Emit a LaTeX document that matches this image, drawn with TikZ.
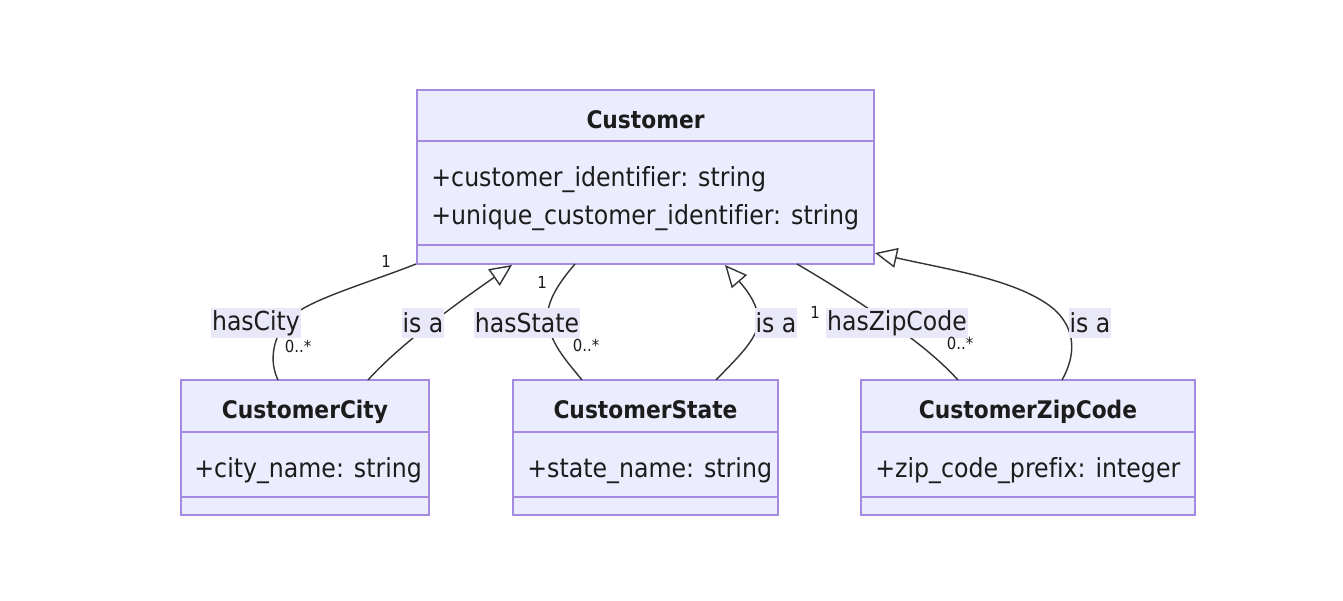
\documentclass[tikz,border=0pt]{standalone}
\usepackage{fontspec}
\setmainfont[Ligatures=NoCommon]{DejaVu Sans Condensed}
\usetikzlibrary{arrows.meta,calc}
\definecolor{boxfill}{HTML}{ECECFF}
\definecolor{boxline}{HTML}{A48BE0}
\definecolor{lblfill}{HTML}{E8E8F8}
\definecolor{ink}{HTML}{1C1C1C}
\definecolor{edgec}{HTML}{333333}
\tikzset{
  classbox/.style={draw=boxline, fill=boxfill, line width=0.8pt, inner sep=0pt, outer sep=0pt, rectangle},
  divider/.style={draw=boxline, line width=0.8pt},
  ctitle/.style={font=\fontsize{12.1}{14}\selectfont\bfseries, text=ink, anchor=base, inner sep=0pt},
  cattr/.style={font=\fontsize{13.15}{15}\selectfont, text=ink, anchor=base west, inner sep=0pt},
  elabel/.style={font=\fontsize{13.1}{15}\selectfont, text=ink, fill=lblfill, inner xsep=0.5pt, inner ysep=0pt, minimum height=15pt},
  mult/.style={font=\fontsize{8.3}{10}\selectfont, text=ink, inner sep=0pt},
  rel/.style={draw=edgec, line width=0.7pt},
  inh/.style={rel, -{Triangle[open, fill=white, length=11pt, width=10pt]}}
}
\begin{document}
\begin{tikzpicture}[x=0.5pt, y=-0.5pt]
\useasboundingbox[fill=white] (0,0) rectangle (1343,600);

% class boxes
\node[classbox, minimum width=228.5pt, minimum height=87pt] (cust) at (645.5,177) {};
\node[classbox, minimum width=124pt, minimum height=67.5pt] (city) at (305,447.5) {};
\node[classbox, minimum width=132.5pt, minimum height=67.5pt] (state) at (645.5,447.5) {};
\node[classbox, minimum width=167pt, minimum height=67.5pt] (zip) at (1028,447.5) {};

% dividers
\draw[divider] (cust.west |- 0,141) -- (cust.east |- 0,141);
\draw[divider] (cust.west |- 0,245) -- (cust.east |- 0,245);
\foreach \b in {city,state,zip}{
  \draw[divider] (\b.west |- 0,432) -- (\b.east |- 0,432);
  \draw[divider] (\b.west |- 0,497) -- (\b.east |- 0,497);
}

% texts
\node[ctitle] (custT) at (645.5,128) {Customer};
\node[cattr] (custA1) at (431,186) {+customer\_identifier: string};
\node[cattr] (custA2) at (431,224) {+unique\_customer\_identifier: string};
\node[ctitle] (cityT) at (305,418) {CustomerCity};
\node[cattr] (cityA) at (194,477) {+city\_name: string};
\node[ctitle] (stateT) at (645.5,418) {CustomerState};
\node[cattr] (stateA) at (527,477) {+state\_name: string};
\node[ctitle] (zipT) at (1028,418) {CustomerZipCode};
\node[cattr] (zipA) at (875,477) {+zip\_code\_prefix: integer};

% connection points
\coordinate (pHC) at ($(cust.south west)+(-1,0)$);
\coordinate (pIC) at ($(cust.south west)+(95,1)$);
\coordinate (pHS) at ($(cust.south west)+(158,0)$);
\coordinate (pIS) at ($(cust.south west)+(308,1)$);
\coordinate (pHZ) at ($(cust.south west)+(380,0)$);
\coordinate (pIZ) at ($(cust.south east)+(1,-11)$);
\coordinate (qHC) at ($(city.north west)+(97,0)$);
\coordinate (qIC) at ($(city.north west)+(187,0)$);
\coordinate (qHS) at ($(state.north west)+(69,0)$);
\coordinate (qIS) at ($(state.north west)+(203,0)$);
\coordinate (qHZ) at ($(zip.north west)+(97,0)$);
\coordinate (qIZ) at ($(zip.north west)+(201,0)$);

% relations
\draw[rel] (pHC) .. controls (360,286) and (300,302) .. (285,323)
                 .. controls (270,345) and (271,365) .. (qHC);
\draw[inh] (qIC) .. controls (395,350) and (440,315) .. (pIC);
\draw[rel] (pHS) .. controls (556,286) and (545,305) .. (548,323)
                 .. controls (551,345) and (570,365) .. (qHS);
\draw[inh] (qIS) .. controls (740,355) and (762,335) .. (758,315)
                 .. controls (755,300) and (745,288) .. (pIS);
\draw[rel] (pHZ) .. controls (845,292) and (870,310) .. (890,323)
                 .. controls (910,337) and (935,355) .. (qHZ);
\draw[inh] (qIZ) .. controls (1076,355) and (1076,330) .. (1055,310)
                 .. controls (1020,280) and (950,270) .. (pIZ);

% edge labels
\node[elabel] (lHC) at (256,323) {hasCity};
\node[elabel] (lIC) at (423,323) {is a};
\node[elabel] (lHS) at (527,323) {hasState};
\node[elabel] (lIS) at (776,323) {is a};
\node[elabel] (lHZ) at (897,323) {hasZipCode};
\node[elabel] (lIZ) at (1090,323) {is a};

% multiplicities
\node[mult] (m1) at (386,261) {1};
\node[mult] (m2) at (298,346) {0..*};
\node[mult] (m3) at (542,282) {1};
\node[mult] (m4) at (586,345) {0..*};
\node[mult] (m5) at (815,312) {1};
\node[mult] (m6) at (960,343) {0..*};
\end{tikzpicture}
\end{document}
